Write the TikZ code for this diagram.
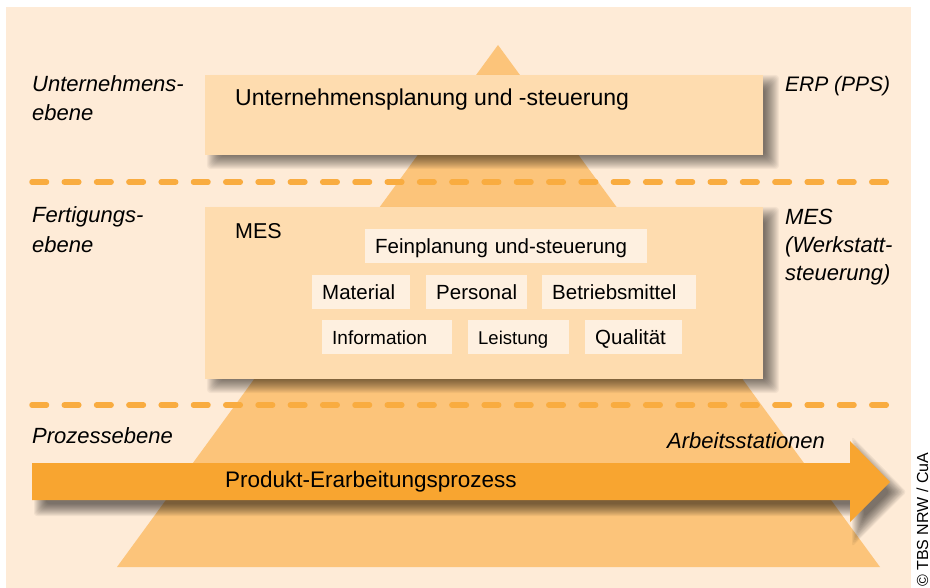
\documentclass[tikz,border=0pt]{standalone}
\usepackage{fontspec}
\setmainfont{Liberation Sans}

\definecolor{panel}{HTML}{FEEBD7}
\definecolor{pyr}{HTML}{FCC47A}
\definecolor{boxfill}{HTML}{FEDCAF}
\definecolor{tagfill}{HTML}{FEF0E0}
\definecolor{dashc}{HTML}{F9AC40}
\definecolor{arrowc}{HTML}{F8A530}

% soft drop shadow under a rectangular node: stacked translucent rectangles
\newcommand\boxshade[1]{%
  \foreach \r in {-7,...,7}{%
    \fill[black, opacity=0.045, rounded corners=4pt]
      ([xshift={(9-(\r))*1pt}, yshift={(-7+(\r))*1pt}]#1.north west) rectangle
      ([xshift={(9+(\r))*1pt}, yshift={(-7-(\r))*1pt}]#1.south east);
  }}

\begin{document}
\begin{tikzpicture}[x=1pt,y=-1pt,
  lvlbox/.style={draw=none, fill=none, inner sep=0pt},
  tag/.style={fill=tagfill, draw=none, inner xsep=10pt, inner ysep=0pt,
    minimum height=34pt, text height=14.6pt, text depth=0pt,
    align=left, anchor=west, font=\fontsize{20.5}{24}\selectfont},
  side/.style={anchor=base west, inner sep=0pt,
    font=\fontsize{22}{26}\selectfont\itshape},
  plain/.style={anchor=base west, inner sep=0pt},
  sep/.style={draw=dashc, line width=5.5pt, line cap=round,
    dash pattern=on 14.5pt off 17.8pt},
]
\useasboundingbox (0,0) rectangle (930,588);
\fill[white] (0,0) rectangle (930,588);
\fill[panel] (6,7) rectangle (911,588);

% pyramid behind the levels
\coordinate (apex) at (498,45);
\coordinate (baseR) at (880,567);
\coordinate (baseL) at (117,567);
\fill[pyr] (apex) -- (baseR) -- (baseL) -- cycle;

% level separators
\coordinate (sepAl) at (32,182);
\coordinate (sepAr) at (890,182);
\coordinate (sepBl) at (32,405);
\coordinate (sepBr) at (890,405);
\draw[sep] (sepAl) -- (sepAr);
\draw[sep] (sepBl) -- (sepBr);

% enterprise level
\node[lvlbox, minimum width=558pt, minimum height=80pt] (erpbox) at (484,115) {};
\boxshade{erpbox}
\fill[boxfill] (erpbox.north west) rectangle (erpbox.south east);
\node[plain, font=\fontsize{23}{27}\selectfont] (erptext) at (235,106)
  {Unternehmensplanung und -steuerung};

% manufacturing level
\node[lvlbox, minimum width=558pt, minimum height=172pt] (mesbox) at (484,293) {};
\boxshade{mesbox}
\fill[boxfill] (mesbox.north west) rectangle (mesbox.south east);
\node[plain, font=\fontsize{21.5}{25}\selectfont] (mestitle) at (235,239) {MES};
\node[tag, text width=262pt] (fein) at (365,246) {Feinplanung und-steuerung};
\node[tag, text width=78pt] (mat) at (312,292) {Material};
\node[tag, text width=81pt] (pers) at (426,292) {Personal};
\node[tag, text width=134pt] (betr) at (542,292) {Betriebsmittel};
\node[tag, text width=110pt, font=\fontsize{19}{23}\selectfont] (info) at (322,337.5) {Information};
\node[tag, text width=81pt, font=\fontsize{18.5}{22}\selectfont] (leis) at (468,337.5) {Leistung};
\node[tag, text width=77pt] (qual) at (585,337.5) {Qualität};

% process level arrow: soft shadow, then the arrow itself
\foreach \r in {-6,...,6}{%
  \fill[black, opacity=0.05, rounded corners=3pt]
    ({40-(\r)},{473-(\r)}) -- ({858-(\r)},{473-(\r)}) --
    ({858-(\r)},{451-2.46*(\r)}) -- ({898+1.43*(\r)},492) --
    ({858-(\r)},{532+2.46*(\r)}) -- ({858-(\r)},{510+(\r)}) --
    ({40-(\r)},{510+(\r)}) -- cycle;
}
\coordinate (arS1) at (32,463);
\coordinate (arN1) at (850,463);
\coordinate (arH1) at (850,441);
\coordinate (arTip) at (890,482);
\coordinate (arH2) at (850,522);
\coordinate (arN2) at (850,500);
\coordinate (arS2) at (32,500);
\fill[arrowc]
  (arS1) -- (arN1) -- (arH1) -- (arTip) -- (arH2) -- (arN2) -- (arS2) -- cycle;
\node[plain, font=\fontsize{22.5}{27}\selectfont] (flow) at (225,487)
  {Produkt-Erarbeitungsprozess};

% level names, left
\node[side] (lvlA1) at (32,92) {Unternehmens-};
\node[side] (lvlA2) at (32,121) {ebene};
\node[side] (lvlB1) at (32,223) {Fertigungs-};
\node[side] (lvlB2) at (32,253) {ebene};
\node[side] (lvlC1) at (32,443) {Prozessebene};

% systems, right
\node[side, font=\fontsize{21}{25}\selectfont\itshape] (sysA) at (785,92) {ERP (PPS)};
\node[side] (sysB1) at (785,225) {MES};
\node[side] (sysB2) at (785,253) {(Werkstatt-};
\node[side] (sysB3) at (785,281) {steuerung)};
\node[side] (sysC) at (667,448) {Arbeitsstationen};

% credit line
\node[rotate=90, anchor=base west, inner sep=0pt,
  font=\fontsize{16}{19}\selectfont] (credit) at (928,587) {© TBS NRW / CuA};
\end{tikzpicture}
\end{document}
